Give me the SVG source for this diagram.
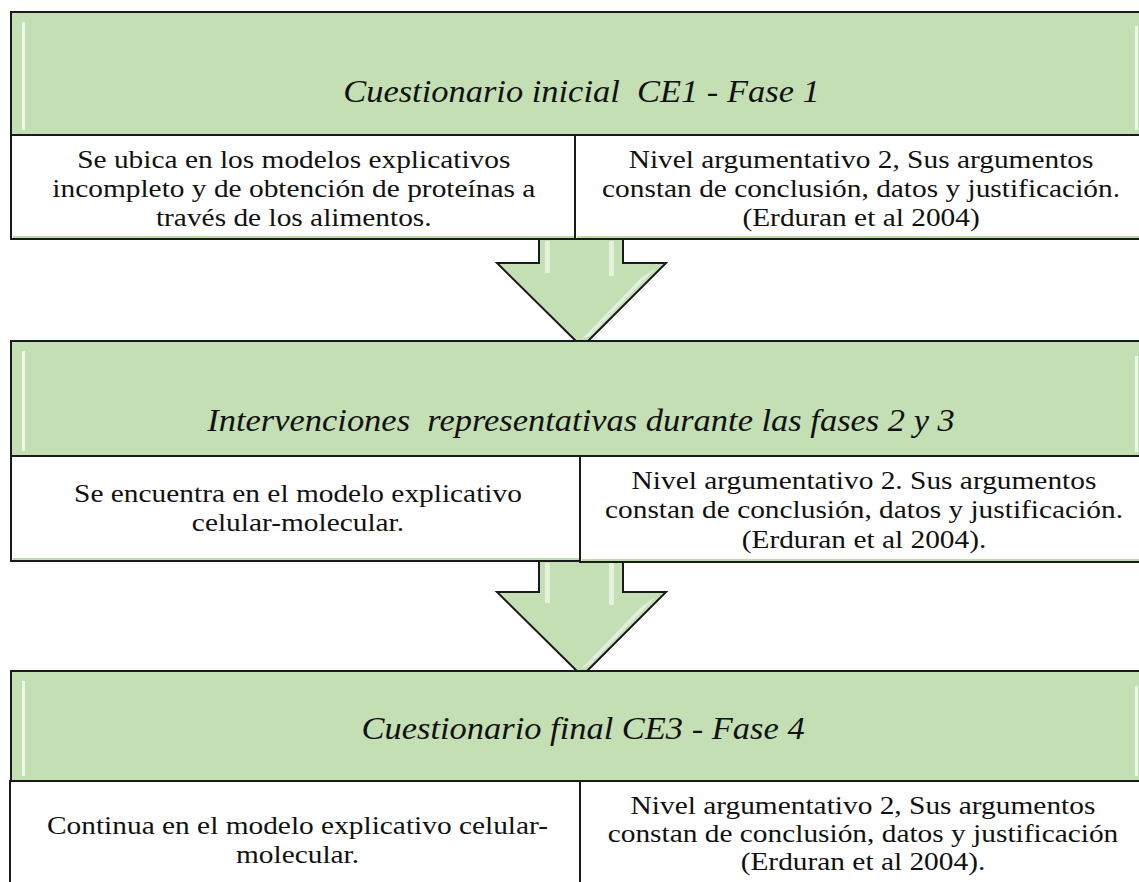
<svg xmlns="http://www.w3.org/2000/svg" width="1139" height="882" viewBox="0 0 1139 882">
<defs>
<style>
.hdr{fill:#C5DFB4;stroke:#1a1a1a;stroke-width:2}
.box{fill:#ffffff;stroke:#1a1a1a;stroke-width:2}
.inner{fill:none;stroke:#A9D18E;stroke-width:1.5}
.gl{fill:#ffffff}
.arr{fill:#C5DFB4;stroke:#1a1a1a;stroke-width:2;stroke-linejoin:miter}
</style>
</defs>

<g id="connectors">
  <g id="arrow1">
    <path class="arr" d="M539,239 L539,263 L497,263 L582,347 L666,263 L623,263 L623,239"/>
    <rect x="545" y="241" width="5" height="32" class="gl" opacity="0.55"/>
    <rect x="609" y="241" width="5" height="35" class="gl" opacity="0.55"/>
    <path d="M641,278 L656,268 L590,336 L582,339 Z" fill="#fff" opacity="0.5"/>
  </g>
  <g id="arrow2">
    <path class="arr" d="M539,561 L539,592 L497,592 L582,676 L666,592 L623,592 L623,562"/>
    <rect x="545" y="563" width="5" height="40" class="gl" opacity="0.55"/>
    <rect x="609" y="563" width="5" height="42" class="gl" opacity="0.55"/>
    <path d="M641,607 L656,597 L590,665 L582,668 Z" fill="#fff" opacity="0.5"/>
  </g>
</g>

<g id="stage1">
  <g id="header1">
    <rect class="hdr" x="11" y="12" width="1140" height="123"/>
    <rect x="22" y="22" width="3" height="108" class="gl" opacity="0.7"/>
    <rect x="1135" y="26" width="3" height="104" class="gl" opacity="0.7"/>
  </g>
  <g id="left1">
    <rect class="box" x="11" y="135" width="564" height="104"/>
    <line class="inner" x1="13" y1="237" x2="574" y2="237"/>
  </g>
  <g id="right1">
    <rect class="box" x="575" y="135" width="570" height="104"/>
    <line class="inner" x1="577" y1="237" x2="1139" y2="237"/>
  </g>
</g>

<g id="stage2">
  <g id="header2">
    <rect class="hdr" x="11" y="341" width="1140" height="115"/>
    <rect x="22" y="351" width="3" height="100" class="gl" opacity="0.7"/>
    <rect x="1135" y="356" width="3" height="96" class="gl" opacity="0.7"/>
  </g>
  <g id="left2">
    <rect class="box" x="11" y="456" width="569" height="105"/>
    <line class="inner" x1="13" y1="559" x2="579" y2="559"/>
  </g>
  <g id="right2">
    <rect class="box" x="580" y="456" width="565" height="106"/>
    <line class="inner" x1="582" y1="560" x2="1139" y2="560"/>
  </g>
</g>

<g id="stage3">
  <g id="header3">
    <rect class="hdr" x="11" y="671" width="1140" height="110"/>
    <rect x="22" y="681" width="3" height="95" class="gl" opacity="0.7"/>
    <rect x="1135" y="686" width="3" height="90" class="gl" opacity="0.7"/>
  </g>
  <g id="left3">
    <rect class="box" x="10" y="781" width="570" height="110"/>
  </g>
  <g id="right3">
    <rect class="box" x="580" y="781" width="565" height="110"/>
  </g>
</g>

<g id="labels" transform="scale(1.13 1)" font-family="Liberation Serif, Times New Roman, serif" fill="#111" text-anchor="middle">
  <g font-style="italic" font-size="30.5">
    <text x="514.6" y="102" xml:space="preserve">Cuestionario inicial  CE1 - Fase 1</text>
    <text x="514.2" y="431" xml:space="preserve">Intervenciones  representativas durante las fases 2 y 3</text>
    <text x="516" y="739">Cuestionario final CE3 - Fase 4</text>
  </g>
  <g font-size="26">
    <text x="260" y="168">Se ubica en los modelos explicativos</text>
    <text x="260" y="197">incompleto y de obtención de proteínas a</text>
    <text x="260" y="226">través de los alimentos.</text>
    <text x="762" y="168">Nivel argumentativo 2, Sus argumentos</text>
    <text x="762" y="197">constan de conclusión, datos y justificación.</text>
    <text x="762" y="226">(Erduran et al 2004)</text>

    <text x="263.7" y="502">Se encuentra en el modelo explicativo</text>
    <text x="263.7" y="531">celular-molecular.</text>
    <text x="764.6" y="489">Nivel argumentativo 2. Sus argumentos</text>
    <text x="764.6" y="518.5">constan de conclusión, datos y justificación.</text>
    <text x="764.6" y="548">(Erduran et al 2004).</text>

    <text x="263.3" y="834">Continua en el modelo explicativo celular-</text>
    <text x="263.3" y="863">molecular.</text>
    <text x="763.7" y="814">Nivel argumentativo 2, Sus argumentos</text>
    <text x="763.7" y="842">constan de conclusión, datos y justificación</text>
    <text x="763.7" y="870">(Erduran et al 2004).</text>
  </g>
</g>
</svg>
